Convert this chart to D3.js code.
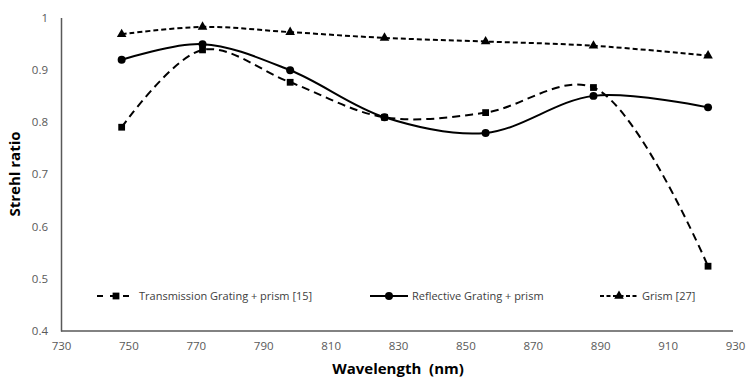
<!DOCTYPE html>
<html><head><meta charset="utf-8">
<script src="https://cdn.jsdelivr.net/npm/d3@7"></script>
<style>body{margin:0;background:#fff}svg{display:block}</style>
</head><body>
<script>
const wavelengths = [748, 772, 798, 826, 856, 888, 922];
const transmission = [0.790, 0.938, 0.876, 0.809, 0.818, 0.866, 0.524];
const reflective = [0.919, 0.949, 0.899, 0.809, 0.779, 0.850, 0.828];
const grism = [0.968, 0.982, 0.972, 0.961, 0.954, 0.946, 0.927];
const xTicks = [730, 750, 770, 790, 810, 830, 850, 870, 890, 910, 930];
const yTicks = [0.4, 0.5, 0.6, 0.7, 0.8, 0.9, 1];
const seriesNames = ["Transmission Grating + prism [15]", "Reflective Grating + prism", "Grism [27]"];

const W = 750, H = 386;
const svg = d3.select("body").append("svg").attr("width", W).attr("height", H);
const x = d3.scaleLinear().domain([730, 930]).range([61, 735]);
const y = d3.scaleLinear().domain([0.4, 1]).range([331, 17.5]);
const font = "'Open Sans', 'Liberation Sans', sans-serif";

// axes
const xAxis = svg.append("g").attr("transform", `translate(0,${y(0.4)})`)
  .call(d3.axisBottom(x).tickValues(xTicks).tickSize(0).tickPadding(11).tickFormat(d3.format("d")));
const yAxis = svg.append("g").attr("transform", `translate(${x(730)},0)`)
  .call(d3.axisLeft(y).tickValues(yTicks).tickSize(0).tickPadding(13).tickFormat(d => d === 1 ? "1" : d3.format(".1f")(d)));
[xAxis, yAxis].forEach(g => {
  g.select(".domain").attr("stroke", "#595959").attr("stroke-width", 1.5);
  g.selectAll("text").attr("fill", "#595959").style("font-family", font).style("font-size", "11.5px");
});
xAxis.select(".domain").attr("d", `M${x(730)},0H733`);

const series = [
  {name: seriesNames[0], vals: transmission, dash: "8,5", marker: "square"},
  {name: seriesNames[1], vals: reflective, dash: null, marker: "circle"},
  {name: seriesNames[2], vals: grism, dash: "5,3", marker: "triangle"}
];
const line = d3.line().x(d => x(d[0])).y(d => y(d[1])).curve(d3.curveCatmullRom.alpha(0.5));
const sym = {square: d3.symbol(d3.symbolSquare, 46), circle: d3.symbol(d3.symbolCircle, 50), triangle: d3.symbol(d3.symbolTriangle, 40)};

series.forEach(s => {
  const pts = wavelengths.map((w, i) => [w, s.vals[i]]);
  svg.append("path").attr("d", line(pts)).attr("fill", "none").attr("stroke", "#000")
    .attr("stroke-width", 2).attr("stroke-dasharray", s.dash);
  svg.append("g").selectAll("path").data(pts).join("path")
    .attr("transform", d => `translate(${x(d[0])},${y(d[1])})`)
    .attr("d", sym[s.marker]()).attr("fill", "#000");
});

// legend
const legX = [97, 370, 600];
series.forEach((s, i) => {
  const g = svg.append("g").attr("transform", `translate(${legX[i]},296)`);
  g.append("line").attr("x1", 0).attr("x2", 38).attr("stroke", "#000").attr("stroke-width", 2)
    .attr("stroke-dasharray", s.dash ? (i === 0 ? "6,7" : "4,2.5") : null);
  g.append("path").attr("transform", "translate(19,0)").attr("d", sym[s.marker]()).attr("fill", "#000");
  g.append("text").attr("x", 42).attr("y", 4).text(s.name)
    .attr("fill", "#404040").style("font-family", font).style("font-size", "11px");
});

// titles
svg.append("text").attr("x", 398).attr("y", 374).attr("text-anchor", "middle")
  .style("font-family", font).style("font-size", "15px").style("font-weight", "bold").text("Wavelength\u00a0 (nm)");
svg.append("text").attr("transform", "translate(20,174) rotate(-90)").attr("text-anchor", "middle")
  .style("font-family", font).style("font-size", "15px").style("font-weight", "bold").text("Strehl ratio");
</script>
</body></html>
